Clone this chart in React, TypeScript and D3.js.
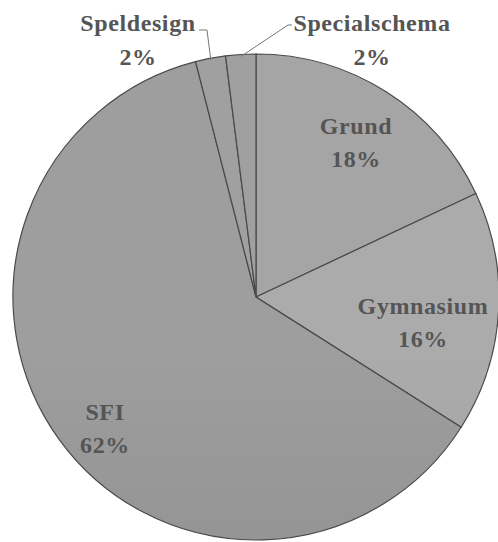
import React from "react";
import * as d3 from "d3";

const categories = ["Grund", "Gymnasium", "SFI", "Speldesign", "Specialschema"];
const values = [18, 16, 62, 2, 2];
const labels = ["18%", "16%", "62%", "2%", "2%"];
const topColors = ["#a5a5a5", "#ababab", "#9e9e9e", "#a0a0a0", "#a0a0a0"];
const bottomColors = ["#959595", "#9b9b9b", "#868686", "#929292", "#929292"];

const W = 498, H = 542;
const cx = 256, cy = 297, R = 243;

export default function App() {
  const pie = d3.pie<number>().sort(null).value((d) => d)(values);
  const arc = d3.arc<d3.PieArcDatum<number>>().innerRadius(0).outerRadius(R);
  const font = "'Liberation Serif', 'Times New Roman', serif";
  const inLabels: Record<string, [number, number]> = {
    Grund: [356, 134],
    Gymnasium: [423, 314],
    SFI: [105, 420],
  };
  const outLabels: Record<string, [number, number]> = {
    Speldesign: [138, 31],
    Specialschema: [372, 31],
  };
  const pt = (a: number, r: number) => [cx + r * Math.sin(a), cy - r * Math.cos(a)];
  const textProps = {
    fontFamily: font,
    fontWeight: "bold" as const,
    fontSize: 24,
    fill: "#555",
    textAnchor: "middle" as const,
    letterSpacing: 0.6,
  };
  return (
    <svg width={W} height={H} style={{ position: "absolute", left: 0, top: 0 }}>
      <defs>
        {categories.map((c, i) => (
          <linearGradient key={c} id={"g" + i} gradientUnits="userSpaceOnUse" x1={0} y1={cy - R} x2={0} y2={cy + R}>
            <stop offset="0" stopColor={topColors[i]} />
            <stop offset="1" stopColor={bottomColors[i]} />
          </linearGradient>
        ))}
      </defs>
      <g transform={`translate(${cx},${cy})`}>
        {pie.map((p, i) => (
          <path key={i} d={arc(p) || ""} fill={`url(#g${i})`} stroke="#4a4a4a" strokeWidth={1.2} />
        ))}
      </g>
      {pie.map((p, i) => {
        const c = categories[i];
        const mid = (p.startAngle + p.endAngle) / 2;
        if (inLabels[c]) {
          const [x, y] = inLabels[c];
          return (
            <g key={c} {...textProps}>
              <text x={x} y={y}>{c}</text>
              <text x={x} y={y + 33}>{labels[i]}</text>
            </g>
          );
        }
        const [x, y] = outLabels[c];
        const [ex, ey] = pt(mid, R - 2);
        let line: string;
        if (c === "Speldesign") {
          line = `M${x + 61},${y - 1} L${x + 69},${y - 1} L${ex},${ey}`;
        } else {
          line = `M${x - 80},${y - 6} L${x - 84},${y - 6} L${ex},${ey}`;
        }
        return (
          <g key={c}>
            <path d={line} fill="none" stroke="#777" strokeWidth={1} />
            <g {...textProps}>
              <text x={x} y={y}>{c}</text>
              <text x={x} y={y + 34}>{labels[i]}</text>
            </g>
          </g>
        );
      })}
    </svg>
  );
}
